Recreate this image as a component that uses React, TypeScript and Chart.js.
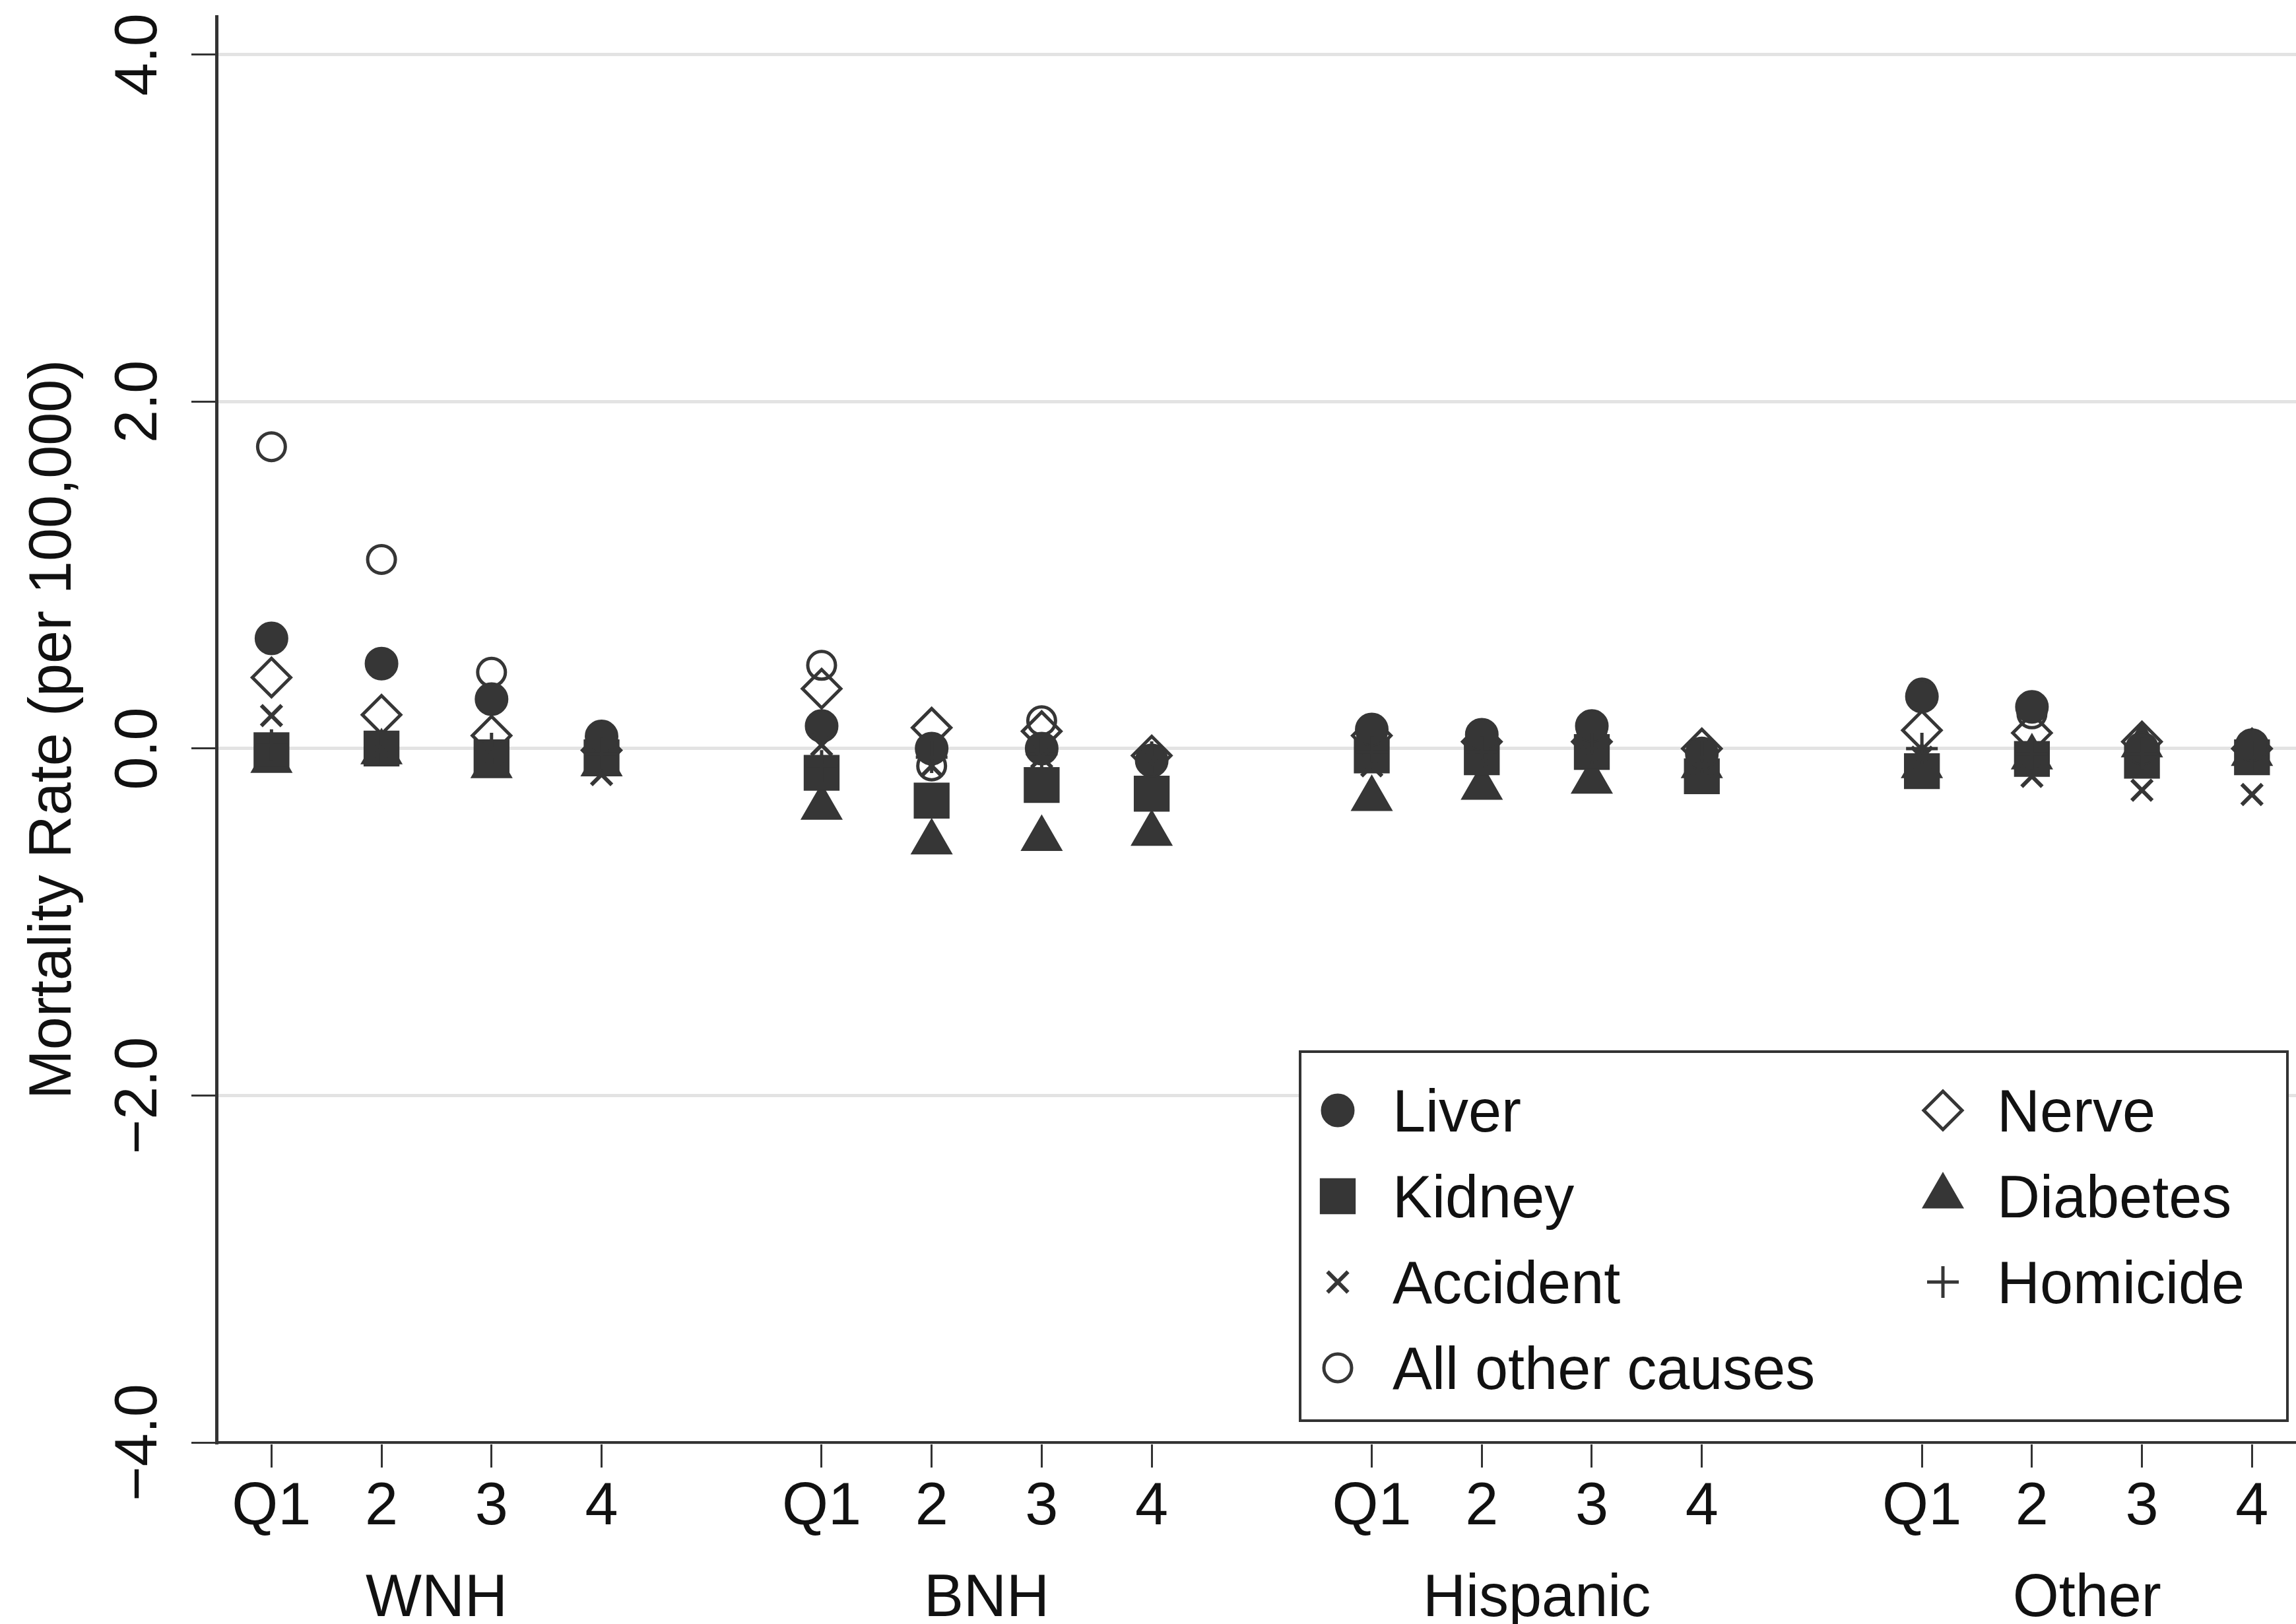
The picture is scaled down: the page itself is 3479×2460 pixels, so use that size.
import React, { useEffect, useRef } from 'react';
import { Chart, registerables } from 'chart.js';
import { drawPoint } from 'chart.js/helpers';

Chart.register(...registerables);

// ---- data ----
const quartileLabels = ['Q1', '2', '3', '4'];
const groupLabels = ['WNH', 'BNH', 'Hispanic', 'Other'];
const xPositions = [1, 2, 3, 4, 6, 7, 8, 9, 11, 12, 13, 14, 16, 17, 18, 19];
const groupCenters = [2.5, 7.5, 12.5, 17.5];
const yTickValues = [-4, -2, 0, 2, 4];

const liver = [0.635, 0.49, 0.285, 0.07, 0.13, 0.0, 0.0, -0.07, 0.11, 0.08, 0.13, -0.03, 0.3, 0.24, 0.0, 0.02];
const nerve = [0.41, 0.195, 0.075, -0.01, 0.345, 0.12, 0.1, -0.04, 0.075, 0.04, 0.04, 0.0, 0.105, 0.09, 0.04, 0.0];
const kidney = [-0.01, 0.0, -0.05, -0.05, -0.14, -0.3, -0.21, -0.26, -0.04, -0.05, -0.02, -0.16, -0.13, -0.06, -0.07, -0.05];
const diabetes = [-0.07, -0.02, -0.1, -0.09, -0.34, -0.54, -0.52, -0.49, -0.29, -0.225, -0.19, -0.1, -0.1, -0.05, 0.02, -0.03];
const accident = [0.19, 0.0, -0.03, -0.15, 0.02, -0.1, -0.05, -0.08, -0.1, -0.08, -0.05, -0.1, -0.05, -0.16, -0.24, -0.265];
const homicide = [0.02, 0.0, 0.0, -0.03, -0.1, -0.05, -0.03, -0.05, -0.02, -0.02, 0.0, -0.05, 0.0, -0.03, -0.03, -0.05];
const allOther = [1.74, 1.09, 0.44, -0.02, 0.48, -0.1, 0.16, -0.06, 0.08, 0.05, 0.1, -0.02, 0.32, 0.2, 0.0, 0.0];

const seriesNames = ['Liver', 'Nerve', 'Kidney', 'Diabetes', 'Accident', 'Homicide', 'All other causes'];
const seriesValues = [liver, nerve, kidney, diabetes, accident, homicide, allOther];

// ---- styles ----
const INK = '#363636';
const seriesStyles = [
  { pointStyle: 'circle', radius: 24, border: 3, fill: INK, order: 1 },
  { pointStyle: 'rectRot', radius: 29, border: 5, fill: 'rgba(0,0,0,0)', order: 3 },
  { pointStyle: 'rect', radius: 37, border: 2, fill: INK, order: 1 },
  { pointStyle: 'triangle', radius: 35, border: 2, fill: INK, order: 2 },
  { pointStyle: 'crossRot', radius: 22, border: 6, fill: INK, order: 0 },
  { pointStyle: 'cross', radius: 24, border: 5, fill: INK, order: 0 },
  { pointStyle: 'circle', radius: 21, border: 5, fill: 'rgba(0,0,0,0)', order: 3 },
];

const FONT = "'Liberation Sans', Arial, Helvetica, sans-serif";
const TEXT = '#111111';

const fmtY = (v: number) => (v < 0 ? '\u2212' + Math.abs(v).toFixed(1) : v.toFixed(1));

const zeroPad = (s: any) => {
  s.paddingLeft = 0;
  s.paddingRight = 0;
  s.paddingTop = 0;
  s.paddingBottom = 0;
};

const legendPlugin = {
  id: 'boxLegend',
  afterDraw(chart: any) {
    const ctx = chart.ctx as CanvasRenderingContext2D;
    const box = { left: 1970, top: 1593, right: 3466, bottom: 2152 };
    ctx.save();
    ctx.fillStyle = '#ffffff';
    ctx.fillRect(box.left, box.top, box.right - box.left, box.bottom - box.top);
    ctx.lineWidth = 4;
    ctx.strokeStyle = '#333333';
    ctx.strokeRect(box.left, box.top, box.right - box.left, box.bottom - box.top);
    chart.data.datasets.forEach((ds: any, k: number) => {
      const row = Math.floor(k / 2);
      const col = k % 2;
      const mx = col === 0 ? 2027 : 2944;
      const tx = col === 0 ? 2110 : 3026;
      const cy = 1682 + row * 130;
      ctx.save();
      ctx.fillStyle = ds.backgroundColor;
      ctx.strokeStyle = ds.borderColor;
      ctx.lineWidth = ds.pointBorderWidth;
      drawPoint(ctx, { pointStyle: ds.pointStyle, rotation: 0, radius: ds.pointRadius, borderWidth: ds.pointBorderWidth } as any, mx, cy);
      ctx.restore();
      ctx.fillStyle = TEXT;
      ctx.font = `90px ${FONT}`;
      ctx.textAlign = 'left';
      ctx.textBaseline = 'alphabetic';
      ctx.fillText(ds.label, tx, cy + 32);
    });
    ctx.restore();
  },
};

export default function App() {
  const canvasRef = useRef<HTMLCanvasElement | null>(null);

  useEffect(() => {
    document.body.style.margin = '0';
    document.body.style.overflow = 'hidden';
    const canvas = canvasRef.current;
    if (!canvas) return;

    const datasets = seriesNames.map((name, i) => {
      const st = seriesStyles[i];
      return {
        label: name,
        data: xPositions.map((x, j) => ({ x, y: seriesValues[i][j] })),
        pointStyle: st.pointStyle,
        pointRadius: st.radius,
        pointHoverRadius: st.radius,
        pointBorderWidth: st.border,
        pointHoverBorderWidth: st.border,
        backgroundColor: st.fill,
        borderColor: INK,
        showLine: false,
        order: st.order,
      };
    });

    const chart = new Chart(canvas, {
      type: 'scatter',
      data: { datasets } as any,
      plugins: [legendPlugin],
      options: {
        animation: false,
        responsive: false,
        devicePixelRatio: 1,
        events: [],
        layout: { autoPadding: false, padding: { top: 25, left: 0, right: 0, bottom: 0 } },
        plugins: {
          legend: { display: false },
          tooltip: { enabled: false },
          title: { display: false },
        },
        scales: {
          x: {
            type: 'linear',
            position: 'bottom',
            weight: 0,
            min: 0.5,
            max: 19.4,
            afterBuildTicks: (s: any) => {
              s.ticks = xPositions.map((v) => ({ value: v }));
            },
            afterFit: (s: any) => {
              s.height = 150;
              zeroPad(s);
            },
            ticks: {
              autoSkip: false,
              minRotation: 0,
              maxRotation: 0,
              padding: 7,
              color: TEXT,
              font: { family: FONT, size: 90 },
              callback: (_v: any, i: number) => quartileLabels[i % 4],
            },
            grid: { drawOnChartArea: false, drawTicks: true, tickLength: 38, color: '#333333', lineWidth: 3 },
            border: { display: true, color: '#333333', width: 4 },
          },
          x2: {
            type: 'linear',
            position: 'bottom',
            weight: 1,
            min: 0.5,
            max: 19.4,
            afterBuildTicks: (s: any) => {
              s.ticks = groupCenters.map((v) => ({ value: v }));
            },
            afterFit: (s: any) => {
              s.height = 125;
              zeroPad(s);
            },
            ticks: {
              autoSkip: false,
              minRotation: 0,
              maxRotation: 0,
              padding: 34,
              color: TEXT,
              font: { family: FONT, size: 90 },
              callback: (_v: any, i: number) => groupLabels[i],
            },
            grid: { display: false, drawOnChartArea: false, drawTicks: false, tickLength: 0 },
            border: { display: false },
          },
          y: {
            type: 'linear',
            position: 'left',
            min: -4,
            max: 4.22,
            afterBuildTicks: (s: any) => {
              s.ticks = yTickValues.map((v) => ({ value: v }));
            },
            afterFit: (s: any) => {
              s.width = 328;
              zeroPad(s);
            },
            ticks: {
              autoSkip: false,
              minRotation: 90,
              maxRotation: 90,
              crossAlign: 'center',
              padding: -11,
              color: TEXT,
              font: { family: FONT, size: 90 },
              callback: (v: any) => fmtY(Number(v)),
            },
            grid: {
              color: '#e3e3e3',
              lineWidth: 5,
              drawTicks: true,
              tickLength: 38,
              tickColor: '#333333',
              tickWidth: 3,
            },
            border: { display: true, color: '#333333', width: 5 },
            title: {
              display: true,
              text: 'Mortality Rate (per 100,000)',
              color: TEXT,
              font: { family: FONT, size: 90 },
              padding: { top: 28, bottom: 0 },
            },
          },
        },
      } as any,
    });

    return () => {
      chart.destroy();
    };
  }, []);

  return (
    <div style={{ width: 3479, height: 2460, background: '#ffffff' }}>
      <canvas ref={canvasRef} width={3479} height={2460} style={{ display: 'block', width: 3479, height: 2460 }} />
    </div>
  );
}
